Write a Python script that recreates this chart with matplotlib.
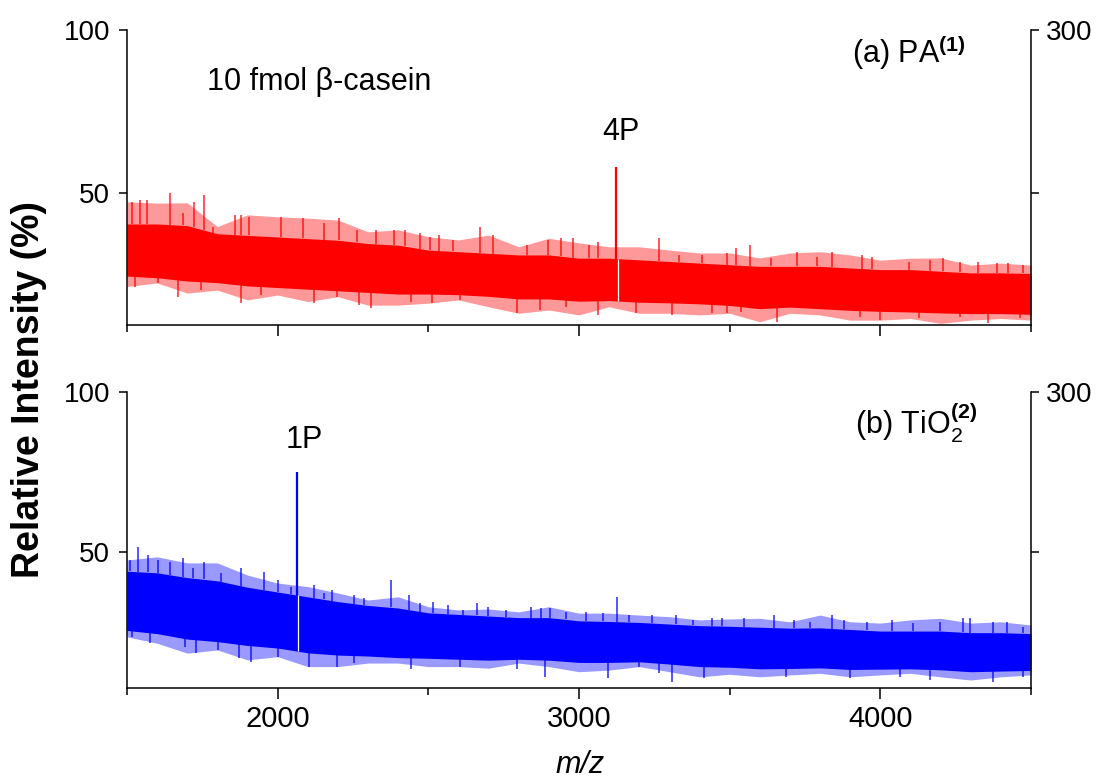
"""MALDI spectra of 10 fmol beta-casein after PA and TiO2 enrichment (two stacked panels)."""
import matplotlib
matplotlib.use("Agg")
import matplotlib.pyplot as plt
import numpy as np
from matplotlib.ticker import FixedLocator

plt.rcParams["font.family"] = ["Liberation Sans", "DejaVu Sans"]
plt.rcParams["mathtext.fontset"] = "custom"
plt.rcParams["mathtext.rm"] = "Liberation Sans"
plt.rcParams["mathtext.it"] = "Liberation Sans:italic"
plt.rcParams["mathtext.bf"] = "Liberation Sans:bold"

MZ = np.arange(1500, 4501, 100)

# (a) PA -- noise band: outer spike tips and dense core
PA_OUTER_HI = [47.3, 46.9, 47.0, 39.7, 43.3, 42.7, 42.3, 41.7, 38.1, 38.7, 36.6,
               35.6, 37.1, 33.5, 36.1, 34.7, 33.5, 33.5, 32.5, 31.6, 31.6,
               30.1, 31.6, 32.0, 31.0, 29.4, 30.0, 30.1, 27.9, 28.5, 27.9]
PA_CORE_HI = [40.5, 40.5, 40.0, 37.5, 37.0, 36.5, 36.0, 35.5, 34.5, 34.0, 32.5,
              32.0, 31.5, 31.0, 31.0, 30.0, 30.0, 29.5, 29.0, 28.5, 28.0,
              27.5, 27.5, 27.5, 27.0, 26.5, 26.5, 26.0, 25.5, 25.5, 25.3]
PA_CORE_LO = [24.5, 24.0, 23.0, 22.5, 21.5, 21.0, 20.5, 20.0, 19.5, 19.0, 19.0,
              18.8, 18.3, 17.5, 17.5, 16.8, 17.0, 16.5, 16.3, 16.0, 15.5,
              14.5, 15.0, 14.5, 14.0, 13.7, 13.5, 13.2, 13.0, 13.0, 12.8]
PA_OUTER_LO = [21.3, 22.4, 19.3, 20.2, 17.2, 18.7, 16.7, 18.2, 15.6, 15.6, 16.2,
               17.2, 15.1, 13.1, 14.1, 12.6, 15.1, 13.1, 13.1, 12.6, 13.1,
               10.5, 13.1, 12.6, 11.0, 11.0, 11.5, 10.0, 11.0, 11.5, 11.0]
PA_UP_MZ = [1515, 1543, 1565, 1642, 1686, 1722, 1754, 1785, 1857, 1879, 1906,
            2011, 2083, 2154, 2204, 2264, 2325, 2386, 2424, 2474,
            2506, 2534, 2583, 2671, 2715, 2826, 2897, 2941, 2980, 3035, 3063,
            3266, 3332, 3410, 3492,
            3521, 3568, 3636, 3724, 3791, 3840, 3939, 3972, 4094, 4165, 4209,
            4264, 4325, 4386, 4424, 4474]
PA_UP = [47.3, 47.9, 47.9, 50.0, 43.8, 47.2, 49.4, 39.7, 43.3, 43.3, 42.7,
         42.7, 42.2, 40.7, 42.2, 38.7, 38.7, 38.7, 38.7, 37.7,
         36.6, 37.1, 35.6, 39.7, 37.1, 34.0, 35.6, 36.1, 36.1, 34.0, 35.1,
         36.1, 31.0, 31.0, 31.5,
         33.0, 34.0, 30.0, 32.0, 30.5, 32.0, 31.0, 30.5, 28.9, 29.4, 30.0,
         28.9, 28.9, 28.4, 28.4, 27.9]
PA_DN_MZ = [1526, 1603, 1669, 1746, 1879, 1945, 2121, 2198, 2270, 2309, 2441,
            2512, 2605, 2793, 2870, 2958, 3063, 3189, 3310, 3443, 3492,
            3537, 3658, 3934, 4000, 4127, 4264, 4358, 4463]
PA_DN = [21.3, 22.3, 18.2, 20.2, 16.2, 18.7, 16.2, 18.2, 15.6, 14.6, 16.7,
         16.2, 17.2, 13.1, 14.1, 15.1, 12.6, 13.1, 12.6, 13.1, 13.1,
         13.6, 10.5, 12.0, 11.0, 11.6, 12.0, 10.0, 11.6]
PA_PEAK_MZ = [3124]
PA_PEAK = [58.1]
PA_PEAK_LABEL = ["4P"]

# (b) TiO2
TI_OUTER_HI = [47.5, 48.5, 46.6, 46.6, 42.8, 40.3, 39.2, 37.2, 35.0, 36.0, 32.9,
               31.9, 32.2, 31.3, 32.9, 30.9, 30.9, 30.3, 29.8, 28.8, 29.1,
               29.3, 28.2, 30.3, 28.2, 27.8, 28.8, 29.3, 27.8, 28.2, 27.2]
TI_CORE_HI = [44.0, 43.5, 42.0, 41.0, 39.0, 37.5, 36.0, 34.5, 33.3, 32.5, 31.0,
              30.5, 30.0, 29.5, 29.5, 28.5, 28.3, 28.0, 27.5, 27.0, 26.8,
              26.5, 26.2, 26.3, 25.8, 25.3, 25.3, 25.3, 24.8, 24.8, 24.5]
TI_CORE_LO = [25.5, 24.5, 22.8, 22.0, 20.8, 20.0, 18.5, 17.8, 17.5, 17.0, 16.8,
              16.5, 16.2, 16.5, 16.2, 15.5, 15.5, 15.7, 15.0, 14.2, 14.0,
              13.5, 13.6, 13.8, 13.3, 13.4, 13.5, 13.2, 12.6, 12.8, 13.0]
TI_OUTER_LO = [23.5, 21.5, 18.4, 19.4, 16.3, 17.3, 14.2, 14.2, 15.3, 15.3, 14.2,
               14.2, 13.7, 15.3, 14.2, 12.6, 13.1, 14.2, 12.6, 11.0, 11.8,
               11.0, 11.6, 12.1, 11.0, 11.6, 12.1, 11.0, 10.0, 11.0, 11.6]
TI_UP_MZ = [1510, 1537, 1570, 1603, 1642, 1686, 1719, 1754, 1813, 1879, 1954,
            2000, 2044, 2121, 2154, 2182, 2253, 2286, 2375, 2435, 2474,
            2517, 2567, 2616, 2660, 2699, 2759, 2842, 2875, 2903, 2958, 3024,
            3079, 3125, 3167, 3244, 3321, 3377, 3443, 3476,
            3548, 3647, 3713, 3768, 3840, 3879, 3956, 4038, 4110, 4198, 4275,
            4297, 4375, 4419, 4474]
TI_UP = [47.5, 51.7, 49.1, 47.5, 47.0, 48.0, 44.9, 47.0, 43.3, 44.9, 43.8,
         41.3, 39.2, 39.7, 37.1, 38.1, 36.6, 35.5, 41.3, 36.6, 34.0,
         34.5, 33.4, 31.9, 34.0, 32.9, 31.9, 32.9, 32.4, 32.4, 31.4, 31.4,
         30.8, 36.0, 30.3, 30.3, 30.3, 28.8, 29.3, 29.3,
         29.3, 30.3, 28.8, 28.2, 30.3, 28.8, 28.2, 28.8, 27.7, 28.2, 29.3,
         29.3, 28.2, 28.2, 26.7]
TI_DN_MZ = [1515, 1576, 1691, 1730, 1802, 1873, 1912, 2000, 2105, 2198, 2253,
            2441, 2605, 2793, 2886, 3096, 3200, 3266, 3310, 3415,
            3686, 3901, 4066, 4165, 4375, 4474]
TI_DN = [23.5, 21.5, 20.4, 18.3, 19.4, 16.8, 15.7, 17.3, 14.2, 14.2, 15.2,
         13.6, 14.2, 13.6, 11.0, 10.5, 14.2, 12.1, 9.5, 10.5,
         11.0, 10.5, 11.0, 10.0, 9.5, 11.0]
TI_PEAK_MZ = [2063]
TI_PEAK = [75.1]
TI_PEAK_LABEL = ["1P"]

RED = "#ff0000"
BLUE = "#0000ff"
FS = 22


def draw_panel(ax, color, outer_hi, core_hi, core_lo, outer_lo,
               up_mz, up, dn_mz, dn, peak_mz, peak, ylow):
    ax.fill_between(MZ, outer_lo, outer_hi, color=color, alpha=0.4, lw=0)
    ax.fill_between(MZ, core_lo, core_hi, color=color, lw=0)
    ax.vlines(up_mz, np.interp(up_mz, MZ, core_hi), up, color=color, lw=1.1, alpha=0.85)
    ax.vlines(dn_mz, dn, np.interp(dn_mz, MZ, core_lo), color=color, lw=1.1, alpha=0.85)
    base_lo = np.interp(peak_mz, MZ, core_lo)
    base_hi = np.interp(peak_mz, MZ, core_hi)
    ax.vlines(peak_mz, base_lo, peak, color=color, lw=1.6)
    # thin white gap the plotting leaves inside the band under the peak
    ax.vlines(np.asarray(peak_mz) + 4, base_lo, base_hi, color="white", lw=0.9)

    ax.set_xlim(1500, 4500)
    ax.set_ylim(ylow, 100)
    ax.xaxis.set_major_locator(FixedLocator([2000, 3000, 4000]))
    ax.xaxis.set_minor_locator(FixedLocator([1500, 2500, 3500, 4500]))
    ax.set_yticks([50, 100])
    ax.tick_params(axis="x", which="major", direction="out", length=8, width=1.1,
                   labelsize=21, pad=4)
    ax.tick_params(axis="x", which="minor", direction="out", length=5, width=1.1)
    ax.tick_params(axis="y", direction="out", length=6, width=1.1, labelsize=20, pad=6)
    for side in ("top", "right"):
        ax.spines[side].set_visible(False)
    for side in ("left", "bottom"):
        ax.spines[side].set_linewidth(1.1)

    rax = ax.twinx()
    rax.set_ylim(3 * ylow, 300)
    rax.set_yticks([150, 300])
    rax.set_yticklabels(["", "300"])
    rax.tick_params(axis="y", direction="out", length=6, width=1.1, labelsize=20, pad=5)
    for side in ("top", "left", "bottom"):
        rax.spines[side].set_visible(False)
    rax.spines["right"].set_linewidth(1.1)
    return rax


fig = plt.figure(figsize=(11.09, 7.8), dpi=100)
ax_a = fig.add_axes([0.1145, 0.5833, 0.8151, 0.3782])
ax_b = fig.add_axes([0.1145, 0.1179, 0.8151, 0.3795])

draw_panel(ax_a, RED, PA_OUTER_HI, PA_CORE_HI, PA_CORE_LO, PA_OUTER_LO,
           PA_UP_MZ, PA_UP, PA_DN_MZ, PA_DN, PA_PEAK_MZ, PA_PEAK, 9.5)
draw_panel(ax_b, BLUE, TI_OUTER_HI, TI_CORE_HI, TI_CORE_LO, TI_OUTER_LO,
           TI_UP_MZ, TI_UP, TI_DN_MZ, TI_DN, TI_PEAK_MZ, TI_PEAK, 7.5)
ax_a.tick_params(axis="x", labelbottom=False)

# annotations
ax_a.text(1764, 81.6, "10 fmol \u03b2-casein", fontsize=FS, va="baseline", ha="left")
ax_a.text(3907, 90.0, r"(a) PA$^{\mathbf{(1)}}$", fontsize=FS, va="baseline", ha="left")
ax_a.text(3140, 66.3, PA_PEAK_LABEL[0], fontsize=FS, va="baseline", ha="center")
ax_b.text(3917, 86.6, r"(b) TiO$_2^{\mathbf{(2)}}$", fontsize=FS, va="baseline", ha="left")
ax_b.text(2088, 82.4, TI_PEAK_LABEL[0], fontsize=FS, va="baseline", ha="center")

fig.text(29 / 1109, 1 - 390 / 780, "Relative Intensity (%)", rotation=90,
         fontsize=27, fontweight="bold", ha="center", va="center")
fig.text(580 / 1109, 1 - 765 / 780, "m/z", fontsize=FS, style="italic",
         ha="center", va="center")

fig.savefig("out.png", dpi=100)
